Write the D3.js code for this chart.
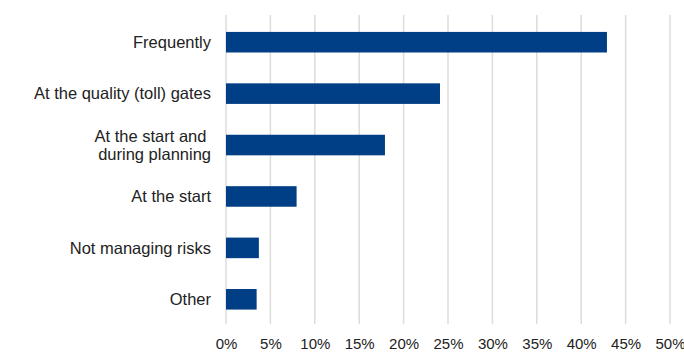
<!DOCTYPE html>
<html>
<head>
<meta charset="utf-8">
<script src="https://cdn.jsdelivr.net/npm/d3@7"></script>
<style>
  html, body { margin: 0; padding: 0; background: #fff; }
  svg { display: block; font-family: "Liberation Sans", Arial, sans-serif; }
</style>
</head>
<body>
<svg id="chart" width="684" height="352"></svg>
<script>
// Survey answers: when risks are managed in projects (share of respondents)
const categories = [
  ["Frequently"],
  ["At the quality (toll) gates"],
  ["At the start and ", "during planning"],
  ["At the start"],
  ["Not managing risks"],
  ["Other"]
];
const values = [42.9, 24.1, 17.9, 7.95, 3.7, 3.45];
const tickValues = [0, 5, 10, 15, 20, 25, 30, 35, 40, 45, 50];

const svg = d3.select("#chart");
const plotLeft = 226, plotRight = 670, plotTop = 15, plotBottom = 324;

const x = d3.scaleLinear().domain([0, 50]).range([plotLeft, plotRight]);
const y = d3.scaleBand()
  .domain(d3.range(categories.length))
  .range([plotTop + 1.5, plotBottom + 1])
  .paddingInner(0.6)
  .paddingOuter(0.3);

// vertical gridlines
svg.append("g")
  .selectAll("line")
  .data(tickValues)
  .join("line")
  .attr("x1", d => x(d)).attr("x2", d => x(d))
  .attr("y1", plotTop).attr("y2", plotBottom)
  .attr("stroke", "#dcdcdc")
  .attr("stroke-width", 1.5);

// bars
svg.append("g")
  .selectAll("rect")
  .data(values)
  .join("rect")
  .attr("x", x(0))
  .attr("y", (d, i) => y(i))
  .attr("width", d => x(d) - x(0))
  .attr("height", y.bandwidth())
  .attr("fill", "#003e85");

// x axis tick labels
const xAxis = d3.axisBottom(x)
  .tickValues(tickValues)
  .tickFormat(d => d + "%")
  .tickSize(0)
  .tickPadding(0);
const gx = svg.append("g")
  .attr("transform", `translate(0,${plotBottom + 14})`)
  .call(xAxis);
gx.select(".domain").remove();
gx.selectAll("text")
  .attr("font-size", 15)
  .attr("font-family", "Liberation Sans, Arial, sans-serif")
  .attr("fill", "#222");

// category labels
const lineH = 17.5;
const labels = svg.append("g")
  .selectAll("text")
  .data(categories)
  .join("text")
  .attr("x", plotLeft - 15)
  .attr("y", (d, i) => y(i) + y.bandwidth() / 2)
  .attr("text-anchor", "end")
  .attr("font-size", 16.5)
  .attr("fill", "#222");
labels.each(function(lines) {
  const t = d3.select(this);
  const n = lines.length;
  lines.forEach((s, k) => {
    t.append("tspan")
      .attr("x", plotLeft - 15)
      .attr("dy", k === 0 ? ((-(n - 1) / 2) * lineH / 16.5 + 0.35) + "em" : (lineH / 16.5) + "em")
      .attr("xml:space", "preserve")
      .text(s);
  });
});
</script>
</body>
</html>
